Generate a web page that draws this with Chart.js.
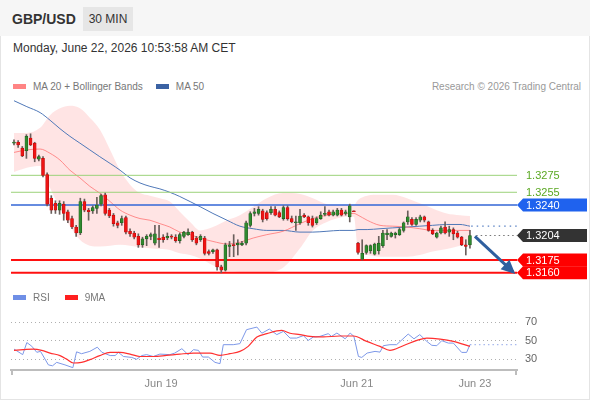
<!DOCTYPE html>
<html>
<head>
<meta charset="utf-8">
<title>GBP/USD 30 MIN</title>
<script src="https://cdn.jsdelivr.net/npm/chart.js@4.4.1/dist/chart.umd.min.js"></script>
<style>
  html, body { margin: 0; padding: 0; background: #fff; }
  body { font-family: "Liberation Sans", Arial, sans-serif; }
  .frame { position: relative; width: 590px; height: 400px; overflow: hidden; box-shadow: inset 0 0 0 1px #e4e4e4; }
  .head { position: absolute; left: 0; top: 0; width: 590px; height: 36px; background: #f6f6f6; }
  .pair { position: absolute; left: 12px; top: 11px; font-size: 14px; font-weight: bold; color: #333; }
  .tf { position: absolute; left: 83px; top: 7px; width: 50px; height: 24px; line-height: 24px; text-align: center; background: #e6e6e6; font-size: 12px; color: #333; }
  .date { position: absolute; left: 13px; top: 41px; font-size: 12px; color: #333; }
  .legend { position: absolute; font-size: 10px; color: #777; white-space: nowrap; z-index: 2; }
  .legend i { display: inline-block; width: 13px; height: 5px; vertical-align: middle; margin: -2px 7px 0 0; }
  .legend b { font-weight: normal; }
  .credit { position: absolute; right: 9px; top: 81px; font-size: 10px; color: #999; }
  canvas { position: absolute; left: 0; }
</style>
</head>
<body>
<div class="frame">
  <div class="head"></div>
  <div class="pair">GBP/USD</div>
  <div class="tf">30 MIN</div>
  <div class="date">Monday, June 22, 2026 10:53:58 AM CET</div>

  <div class="legend" style="left:13px; top:81px;">
    <i style="background:#ff8484"></i><b>MA 20 + Bollinger Bands</b><i style="background:#3b62a3; margin-left:13px"></i><b>MA 50</b>
  </div>
  <div class="credit">Research © 2026 Trading Central</div>

  <canvas id="priceChart" width="590" height="193" style="top:92px"></canvas>

  <div class="legend" style="left:13px; top:292px;">
    <i style="background:#6f8fe6"></i><b>RSI</b><i style="background:#ff1f1f; margin-left:15px"></i><b>9MA</b>
  </div>
  <canvas id="rsiChart" width="590" height="100" style="top:300px"></canvas>
</div>

<script>
// 30 min candles, oldest first
const opens = [1.3313, 1.3314, 1.3307, 1.3304, 1.3319, 1.3313, 1.3294, 1.3295, 1.3276, 1.3248,
  1.3242, 1.3234, 1.3241, 1.3232, 1.3224, 1.3214, 1.3207, 1.3244, 1.3234, 1.3233,
  1.3236, 1.3241, 1.3252, 1.3234, 1.3228, 1.3219, 1.3219, 1.3225, 1.3209, 1.3207,
  1.3203, 1.3193, 1.3200, 1.3203, 1.3195, 1.3201, 1.3202, 1.3201, 1.3203, 1.3202,
  1.3198, 1.3203, 1.3205, 1.3208, 1.3201, 1.3199, 1.3201, 1.3185, 1.3185, 1.3187,
  1.3167, 1.3163, 1.3191, 1.3193, 1.3193, 1.3193, 1.3195, 1.3216, 1.3230, 1.3230,
  1.3233, 1.3231, 1.3231, 1.3235, 1.3231, 1.3224, 1.3237, 1.3224, 1.3219, 1.3219,
  1.3228, 1.3226, 1.3224, 1.3219, 1.3224, 1.3229, 1.3232, 1.3228, 1.3228, 1.3234,
  1.3230, 1.3226, 1.3233, 1.3195, 1.3176, 1.3184, 1.3186, 1.3182, 1.3186, 1.3192,
  1.3205, 1.3203, 1.3205, 1.3205, 1.3210, 1.3220, 1.3223, 1.3217, 1.3222, 1.3226,
  1.3220, 1.3210, 1.3202, 1.3207, 1.3214, 1.3208, 1.3211, 1.3207, 1.3202, 1.3193,
  1.3193];
const highs = [1.3317, 1.3316, 1.3309, 1.3323, 1.3324, 1.3314, 1.3299, 1.3297, 1.3278, 1.3251,
  1.3245, 1.3245, 1.3244, 1.3234, 1.3227, 1.3216, 1.3248, 1.3247, 1.3236, 1.3239,
  1.3249, 1.3253, 1.3254, 1.3236, 1.3230, 1.3221, 1.3227, 1.3227, 1.3212, 1.3209,
  1.3206, 1.3202, 1.3205, 1.3207, 1.3216, 1.3216, 1.3205, 1.3207, 1.3205, 1.3205,
  1.3207, 1.3209, 1.3212, 1.3209, 1.3203, 1.3205, 1.3203, 1.3187, 1.3188, 1.3188,
  1.3169, 1.3195, 1.3197, 1.3205, 1.3199, 1.3197, 1.3221, 1.3232, 1.3236, 1.3238,
  1.3235, 1.3233, 1.3238, 1.3238, 1.3233, 1.3239, 1.3239, 1.3227, 1.3227, 1.3235,
  1.3230, 1.3227, 1.3227, 1.3226, 1.3232, 1.3238, 1.3234, 1.3234, 1.3236, 1.3236,
  1.3234, 1.3241, 1.3233, 1.3196, 1.3199, 1.3193, 1.3193, 1.3195, 1.3203, 1.3210,
  1.3211, 1.3208, 1.3208, 1.3213, 1.3220, 1.3233, 1.3225, 1.3225, 1.3228, 1.3227,
  1.3221, 1.3212, 1.3208, 1.3215, 1.3220, 1.3215, 1.3213, 1.3209, 1.3203, 1.3199,
  1.3210];
const lows = [1.3311, 1.3308, 1.3297, 1.3295, 1.3310, 1.3291, 1.3292, 1.3273, 1.3239, 1.3230,
  1.3230, 1.3229, 1.3222, 1.3219, 1.3212, 1.3203, 1.3205, 1.3232, 1.3222, 1.3230,
  1.3230, 1.3239, 1.3228, 1.3225, 1.3215, 1.3213, 1.3216, 1.3206, 1.3203, 1.3200,
  1.3190, 1.3190, 1.3192, 1.3199, 1.3193, 1.3190, 1.3196, 1.3199, 1.3200, 1.3196,
  1.3195, 1.3201, 1.3204, 1.3197, 1.3193, 1.3197, 1.3181, 1.3181, 1.3183, 1.3163,
  1.3160, 1.3162, 1.3179, 1.3179, 1.3181, 1.3192, 1.3193, 1.3214, 1.3227, 1.3228,
  1.3220, 1.3222, 1.3229, 1.3227, 1.3225, 1.3222, 1.3222, 1.3219, 1.3210, 1.3217,
  1.3225, 1.3216, 1.3214, 1.3217, 1.3223, 1.3227, 1.3227, 1.3227, 1.3227, 1.3227,
  1.3228, 1.3220, 1.3232, 1.3182, 1.3175, 1.3182, 1.3183, 1.3181, 1.3182, 1.3190,
  1.3199, 1.3202, 1.3201, 1.3204, 1.3208, 1.3217, 1.3216, 1.3216, 1.3220, 1.3220,
  1.3209, 1.3205, 1.3201, 1.3206, 1.3206, 1.3203, 1.3199, 1.3201, 1.3192, 1.3181,
  1.3189];
const closes = [1.3314, 1.3311, 1.3298, 1.3321, 1.3311, 1.3295, 1.3297, 1.3275, 1.3241, 1.3234,
  1.3234, 1.3242, 1.3230, 1.3222, 1.3214, 1.3207, 1.3244, 1.3234, 1.3232, 1.3237,
  1.3240, 1.3251, 1.3230, 1.3227, 1.3218, 1.3216, 1.3224, 1.3208, 1.3206, 1.3202,
  1.3193, 1.3200, 1.3203, 1.3205, 1.3206, 1.3199, 1.3199, 1.3203, 1.3202, 1.3198,
  1.3205, 1.3208, 1.3208, 1.3199, 1.3195, 1.3203, 1.3183, 1.3183, 1.3187, 1.3167,
  1.3163, 1.3193, 1.3193, 1.3192, 1.3195, 1.3195, 1.3219, 1.3230, 1.3232, 1.3235,
  1.3223, 1.3224, 1.3235, 1.3228, 1.3226, 1.3237, 1.3224, 1.3220, 1.3220, 1.3227,
  1.3226, 1.3219, 1.3216, 1.3224, 1.3228, 1.3230, 1.3228, 1.3232, 1.3234, 1.3228,
  1.3232, 1.3239, 1.3232, 1.3184, 1.3183, 1.3192, 1.3192, 1.3194, 1.3195, 1.3207,
  1.3207, 1.3207, 1.3207, 1.3211, 1.3219, 1.3226, 1.3217, 1.3223, 1.3226, 1.3222,
  1.3210, 1.3206, 1.3207, 1.3213, 1.3207, 1.3211, 1.3206, 1.3202, 1.3193, 1.3191,
  1.3204];

// indicator lines, read at these candle positions
const bandX = [0, 3.1, 6.3, 8.7, 11.1, 13.5, 15.9, 18.3, 20.7, 23.2,
  25.6, 28, 30.4, 32.8, 35.2, 37.6, 40, 42.5, 44.9, 48,
  51.4, 54.5, 57.7, 61, 64.9, 69, 72.1, 75.5, 78.6, 82,
  83, 85.2, 88.3, 91.4, 94.8, 97.9, 101, 104.4, 107.6, 110];
const upperBand = [1.3325, 1.3325, 1.3331, 1.3346, 1.3354, 1.3357, 1.3354, 1.3343, 1.3329, 1.3305,
  1.3281, 1.3264, 1.3254, 1.3251, 1.3248, 1.3244, 1.3232, 1.3220, 1.3210, 1.3214,
  1.3222, 1.3228, 1.3238, 1.3248, 1.3254, 1.3253, 1.3248, 1.3241, 1.3240, 1.3240,
  1.3246, 1.3251, 1.3252, 1.3252, 1.3248, 1.3242, 1.3236, 1.3230, 1.3228, 1.3227];
const lowerBand = [1.3279, 1.3284, 1.3286, 1.3260, 1.3236, 1.3215, 1.3199, 1.3192, 1.3191, 1.3192,
  1.3193, 1.3192, 1.3190, 1.3189, 1.3188, 1.3187, 1.3183, 1.3181, 1.3177, 1.3169,
  1.3162, 1.3161, 1.3161, 1.3161, 1.3166, 1.3189, 1.3210, 1.3220, 1.3225, 1.3226,
  1.3187, 1.3181, 1.3179, 1.3179, 1.3179, 1.3181, 1.3185, 1.3188, 1.3192, 1.3195];
const ma20 = [1.3302, 1.3305, 1.3306, 1.3301, 1.3293, 1.3281, 1.3272, 1.3262, 1.3254, 1.3244,
  1.3234, 1.3228, 1.3224, 1.3222, 1.3218, 1.3214, 1.3208, 1.3205, 1.3201, 1.3197,
  1.3194, 1.3196, 1.3201, 1.3205, 1.3209, 1.3218, 1.3224, 1.3228, 1.3230, 1.3230,
  1.3228, 1.3222, 1.3216, 1.3215, 1.3214, 1.3212, 1.3210, 1.3210, 1.3210, 1.3210];
const ma50 = [1.3363, 1.3356, 1.3349, 1.3340, 1.3330, 1.3321, 1.3313, 1.3305, 1.3297, 1.3289,
  1.3281, 1.3272, 1.3266, 1.3262, 1.3259, 1.3255, 1.3250, 1.3244, 1.3238, 1.3230,
  1.3222, 1.3215, 1.3212, 1.3210, 1.3210, 1.3208, 1.3208, 1.3209, 1.3210, 1.3210,
  1.3211, 1.3211, 1.3212, 1.3213, 1.3214, 1.3215, 1.3216, 1.3217, 1.3217, 1.3215];

const resistances = [1.3275, 1.3255];
const pivot = 1.3240;
const supports = [1.3175, 1.3160];
const lastPrice = 1.3204;
const arrowFrom = [111.2, 1.3203];
const arrowTo = [120.4, 1.3161];

const rsiX = [0, 2.1, 3.1, 4.3, 5.5, 6.4, 8.3, 9.3, 10.3, 12.3, 14.2, 15.1, 16.3, 18.3, 20.1, 21.2,
  23.2, 24.4, 25.2, 26.4, 28.4, 29.6, 30.8, 32, 33.6, 35.2, 37.6, 38.8, 40.5, 42, 43.3,
  44.5, 45.5, 46.9, 48.5, 49.7, 50.5, 52.9, 54.5, 56.1, 58.6, 59.8, 61.6, 63.4, 65, 66.6,
  68.2, 69.8, 71, 72.2, 73.8, 75.8, 76.6, 77.9, 79.9, 81.1, 82, 83.1, 83.9, 85.2, 87.1,
  88.3, 89.1, 90.7, 92.3, 95.1, 96.5, 97.9, 99.6, 100.8, 102, 103.2, 104.8, 106, 108, 109.2, 110];
const rsiVal = [41, 35, 48, 44, 37.5, 38.5, 24, 23, 26.7, 24, 21, 38, 36, 38.5, 43, 37.5,
  34, 34, 37.5, 33, 32, 30, 34, 35, 33, 35.6, 35, 36.7, 41.4, 35, 40.3,
  39.6, 32.4, 32.4, 26.7, 25.3, 45.7, 45.7, 46.8, 61.8, 64.6, 58, 62.5, 56.5, 60, 52.8,
  52.8, 55.4, 50.3, 53.9, 54.6, 57.5, 54.6, 58.2, 52, 58.2, 54.6, 33, 32, 36.7, 38.5,
  37.7, 44.6, 45.7, 45.7, 57.1, 52, 56.5, 49.2, 45, 44.6, 50, 47.4, 47.4, 37.4, 37.4, 45.7];
const ma9X = [0, 2.2, 4.7, 6.7, 8.7, 11.1, 12.7, 14.3, 16.3, 18.3, 20.7, 23.2, 25.6, 28,
  30.4, 33.6, 36.8, 40, 43.3, 47.3, 49.7, 52.1, 54.5, 56.5, 58.6, 61, 64.6, 66.6,
  69, 71.4, 74.6, 78.6, 81.9, 85.1, 88.3, 90.7, 93.9, 97.2, 99.6, 102.8, 106, 110];
const ma9Val = [39.6, 40.3, 41, 39.6, 36.7, 34, 30.2, 26, 26.7, 29.6, 34, 37.4, 37.4, 35.6,
  33, 33, 34.2, 35.6, 36.7, 36.7, 34.2, 36, 38.5, 43.9, 53.9, 57.5, 61, 58,
  56.5, 54.6, 54, 55, 55, 49.2, 43.9, 39.6, 44.6, 50.3, 52.8, 51.7, 49.2, 43.9];
const rsiLevels = [30, 50, 70];

const dateTicks = [35.5, 82.7, 111.2];
const dateLabels = ['Jun 19', 'Jun 21', 'Jun 23'];

const FONT = '"Liberation Sans", Arial, sans-serif';
Chart.defaults.font.family = FONT;

const X_MIN = -0.72, X_MAX = 121.35;
const pts = (xs, ys) => xs.map((x, i) => ({ x: x, y: ys[i] }));
const flat = (x0, v) => [{ x: x0, y: v }, { x: X_MAX, y: v }];

function line(data, color, width, extra) {
  return Object.assign({
    type: 'line', data: data, borderColor: color, borderWidth: width,
    pointRadius: 0, fill: false, order: 5
  }, extra || {});
}

const isUp = opens.map((o, i) => closes[i] > o);

const priceDatasets = [
  line(pts(bandX, upperBand), 'rgba(0,0,0,0)', 0, {
    fill: '+1', backgroundColor: 'rgba(255,120,120,0.2)', cubicInterpolationMode: 'monotone', order: 10
  }),
  line(pts(bandX, lowerBand), 'rgba(0,0,0,0)', 0, { cubicInterpolationMode: 'monotone', order: 10 }),
  line(pts(bandX, ma20), 'rgba(255,110,110,0.75)', 1, { cubicInterpolationMode: 'monotone' }),
  line(pts(bandX, ma50), '#4f78b8', 1, { cubicInterpolationMode: 'monotone' }),
  line(flat(110.3, ma50[ma50.length - 1]), '#5a82c4', 1.2, { borderDash: [1.5, 4] }),
  line(flat(111.5, lastPrice), '#777', 1.2, { borderDash: [1.5, 3] }),
  line(flat(X_MIN, resistances[0]), '#9bd27a', 1, { order: 4 }),
  line(flat(X_MIN, resistances[1]), '#9bd27a', 1, { order: 4 }),
  line(flat(X_MIN, pivot), '#3366d6', 1.5, { order: 4 }),
  line(flat(X_MIN, supports[0]), '#ff1010', 2, { order: 4 }),
  line(flat(X_MIN, supports[1]), '#ff1010', 2, { order: 4 }),
  {
    type: 'bar', grouped: false, order: 2, barThickness: 1,
    data: highs.map((h, i) => ({ x: i, y: [lows[i], h] })),
    backgroundColor: '#6a5f5c'
  },
  {
    type: 'bar', grouped: false, order: 1, barThickness: 3, minBarLength: 1,
    data: opens.map((o, i) => ({ x: i, y: [o, closes[i]] })),
    backgroundColor: isUp.map(u => u ? '#2f8a2f' : '#ee1414'),
    borderColor: isUp.map(u => u ? '#1d5a1d' : '#b80c0c'),
    borderWidth: 0.6, borderSkipped: false
  },
  line([{ x: arrowFrom[0], y: arrowFrom[1] }, { x: arrowTo[0], y: arrowTo[1] }], '#2f5f9f', 3, { order: 0 })
];
const ARROW = priceDatasets.length - 1;

const arrowHead = {
  id: 'arrowHead',
  afterDatasetsDraw(chart) {
    const p = chart.getDatasetMeta(ARROW).data;
    if (p.length < 2) return;
    const a = p[0], b = p[1];
    const ang = Math.atan2(b.y - a.y, b.x - a.x);
    const c = Math.cos(ang), s = Math.sin(ang);
    const tx = b.x + 3 * c, ty = b.y + 3 * s;
    const ctx = chart.ctx;
    ctx.save();
    ctx.fillStyle = '#2f5f9f';
    ctx.beginPath();
    ctx.moveTo(tx, ty);
    ctx.lineTo(tx - 14 * c + 6.5 * s, ty - 14 * s - 6.5 * c);
    ctx.lineTo(tx - 14 * c - 6.5 * s, ty - 14 * s + 6.5 * c);
    ctx.closePath();
    ctx.fill();
    ctx.restore();
  }
};

const priceTags = {
  id: 'priceTags',
  afterDraw(chart) {
    const { ctx, chartArea } = chart;
    const y = chart.scales.y;
    const x0 = chartArea.right;
    const tags = [
      { v: resistances[0], text: '#5ba823' },
      { v: resistances[1], text: '#5ba823' },
      { v: pivot, fill: '#1f62ee' },
      { v: lastPrice, fill: '#333333' },
      { v: supports[0], fill: '#ff0000' },
      { v: supports[1], fill: '#ff0000' }
    ];
    ctx.save();
    ctx.font = '11px ' + FONT;
    ctx.textBaseline = 'middle';
    tags.forEach(t => {
      const py = y.getPixelForValue(t.v);
      if (t.fill) {
        ctx.fillStyle = t.fill;
        ctx.beginPath();
        ctx.moveTo(x0, py);
        ctx.lineTo(x0 + 6, py - 6.5);
        ctx.lineTo(587, py - 6.5);
        ctx.lineTo(587, py + 6.5);
        ctx.lineTo(x0 + 6, py + 6.5);
        ctx.closePath();
        ctx.fill();
        ctx.fillStyle = '#ffffff';
      } else {
        ctx.fillStyle = t.text;
      }
      ctx.fillText(t.v.toFixed(4), x0 + 9, py + 0.5);
    });
    ctx.restore();
  }
};

new Chart(document.getElementById('priceChart'), {
  type: 'bar',
  data: { datasets: priceDatasets },
  options: {
    responsive: false,
    animation: false,
    layout: { autoPadding: false, padding: { left: 11, right: 73, top: 0, bottom: 0 } },
    plugins: { legend: { display: false }, tooltip: { enabled: false } },
    scales: {
      x: { type: 'linear', min: X_MIN, max: X_MAX, offset: false, display: false },
      y: { type: 'linear', min: 1.31456, max: 1.33733, display: false }
    }
  },
  plugins: [arrowHead, priceTags]
});

const axisEnds = {
  id: 'axisEnds',
  afterDraw(chart) {
    const { ctx, chartArea } = chart;
    ctx.save();
    ctx.strokeStyle = '#bdbdbd';
    ctx.lineWidth = 2;
    [chartArea.left + 1, chartArea.right - 1].forEach(x => {
      ctx.beginPath();
      ctx.moveTo(x, chartArea.bottom);
      ctx.lineTo(x, chartArea.bottom + 5);
      ctx.stroke();
    });
    ctx.restore();
  }
};

new Chart(document.getElementById('rsiChart'), {
  type: 'line',
  data: {
    datasets: [
      line(pts(rsiX, rsiVal), '#7d98e8', 1, { order: 2 }),
      line(flat(110, rsiVal[rsiVal.length - 1]), '#a8b9ee', 1.2, { borderDash: [1.5, 3], order: 3 }),
      line(pts(ma9X, ma9Val), '#ff3030', 1.2, { cubicInterpolationMode: 'monotone', order: 1 })
    ]
  },
  options: {
    responsive: false,
    animation: false,
    layout: { autoPadding: false, padding: { left: 11, right: 0, top: 10, bottom: 0 } },
    plugins: { legend: { display: false }, tooltip: { enabled: false } },
    scales: {
      x: {
        type: 'linear', min: X_MIN, max: X_MAX, offset: false,
        grid: { display: false, drawTicks: false },
        border: { color: '#bdbdbd', width: 2 },
        afterBuildTicks: s => { s.ticks = dateTicks.map(v => ({ value: v })); },
        afterFit: s => { s.height = 30; },
        ticks: {
          autoSkip: false, maxRotation: 0, padding: 7, color: '#888',
          font: { size: 11 }, callback: (v, i) => dateLabels[i]
        }
      },
      y: {
        type: 'linear', position: 'right', min: 18.5, max: 78,
        grid: { color: '#b0b0b0', drawTicks: false },
        border: { display: false, dash: [1, 3] },
        afterBuildTicks: s => { s.ticks = rsiLevels.map(v => ({ value: v })); },
        afterFit: s => { s.width = 73; },
        ticks: { padding: 8, color: '#666', font: { size: 11 } }
      }
    }
  },
  plugins: [axisEnds]
});
</script>
</body>
</html>
